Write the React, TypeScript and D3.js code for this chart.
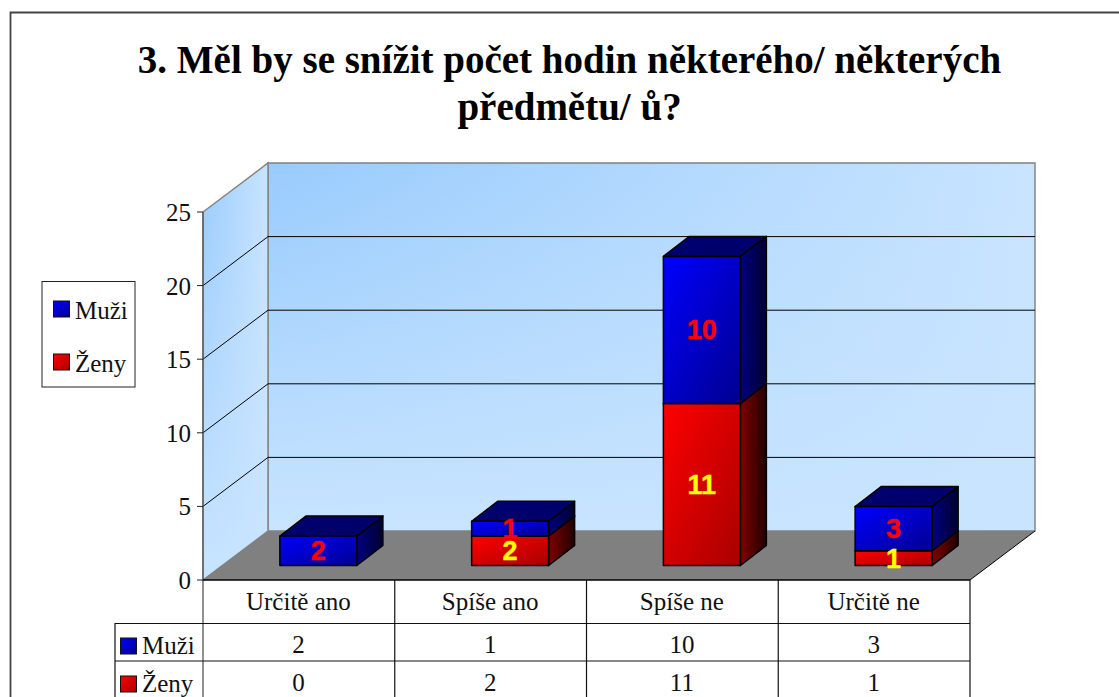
import React from "react";
import * as d3 from "d3";

const categories = ["Určitě ano", "Spíše ano", "Spíše ne", "Určitě ne"];
const muzi = [2, 1, 10, 3];
const zeny = [0, 2, 11, 1];
const yTicks = [0, 5, 10, 15, 20, 25];
const titleLines = ["3. Měl by se snížit počet hodin některého/ některých", "předmětu/ ů?"];

const SERIF = "'Liberation Serif', serif";
const SANS = "'Liberation Sans', sans-serif";

const x0 = 203, x1 = 970, yBase = 580, yTop = 212;
const DX = 65, DY = -49;
const barNearX = 19.5, barNearY = -14.5, barDX = 26, barDY = -20;
const barWidth = 77;

const y = d3.scaleLinear().domain([0, 25]).range([yBase, yTop]);
const band = d3.scaleBand<string>().domain(categories).range([x0, x1]);

const poly = (p: number[][]) => p.map((q) => q.join(",")).join(" ");

function Grad({ id, a, b, x2 = 1, y2 = 1 }: any) {
  return (
    <linearGradient id={id} x1="0" y1="0" x2={x2} y2={y2}>
      <stop offset="0" stopColor={a} />
      <stop offset="1" stopColor={b} />
    </linearGradient>
  );
}

function Box({ x, yb, yt, kind }: { x: number; yb: number; yt: number; kind: string }) {
  const r = x + barWidth;
  return (
    <g stroke="#000" strokeWidth={1.5} strokeLinejoin="round">
      <polygon points={poly([[x, yt], [x + barDX, yt + barDY], [r + barDX, yt + barDY], [r, yt]])} fill={`url(#${kind}Top)`} />
      <polygon points={poly([[r, yt], [r + barDX, yt + barDY], [r + barDX, yb + barDY], [r, yb]])} fill={`url(#${kind}Side)`} />
      <rect x={x} y={yt} width={barWidth} height={yb - yt} fill={`url(#${kind}Front)`} />
    </g>
  );
}

function Swatch({ x, yy, s, kind }: any) {
  return <rect x={x} y={yy} width={s} height={s} fill={`url(#${kind}Front)`} stroke="#111" strokeWidth={1} />;
}

export default function App() {
  const tableRows = [
    { name: "Muži", kind: "m", values: muzi, top: 623, bottom: 661 },
    { name: "Ženy", kind: "z", values: zeny, top: 661, bottom: 699 },
  ];
  const wallPts = poly([[x0 + DX, y(25) + DY], [x1 + DX, y(25) + DY], [x1 + DX, y(0) + DY], [x0 + DX, y(0) + DY]]);
  const sidePts = poly([[x0, y(25)], [x0 + DX, y(25) + DY], [x0 + DX, y(0) + DY], [x0, y(0)]]);
  return (
    <svg width={1119} height={697} style={{ position: "absolute", left: 0, top: 0, display: "block", background: "#fff" }}>
      <defs>
        <Grad id="wall" a="#98cbfd" b="#c8e4ff" x2={1} y2={0} />
        <Grad id="side" a="#98cbfd" b="#c8e4ff" x2={1} y2={0} />
        <linearGradient id="fade" x1="0" y1="0" x2="0" y2="1">
          <stop offset="0" stopColor="#c8e4ff" stopOpacity={0} />
          <stop offset="1" stopColor="#c8e4ff" stopOpacity={1} />
        </linearGradient>
        <Grad id="mFront" a="#0000ff" b="#000090" />
        <Grad id="mSide" a="#000080" b="#000030" x2={1} y2={0} />
        <Grad id="mTop" a="#000070" b="#00006a" />
        <Grad id="zFront" a="#ff0000" b="#a80000" />
        <Grad id="zSide" a="#800000" b="#200000" x2={1} y2={0} />
        <Grad id="zTop" a="#800000" b="#600000" />
      </defs>

      <path d="M10.5,697 V12.5 H1119" fill="none" stroke="#444" strokeWidth={1.8} />

      {titleLines.map((t, i) => (
        <text key={t} x={569.5} y={73 + i * 47} textAnchor="middle" fontFamily={SERIF} fontWeight="bold" fontSize={39} fill="#000">{t}</text>
      ))}

      {/* walls and floor */}
      <polygon points={wallPts} fill="url(#wall)" />
      <polygon points={wallPts} fill="url(#fade)" stroke="#808080" strokeWidth={1.4} />
      <polygon points={sidePts} fill="url(#side)" />
      <polygon points={sidePts} fill="url(#fade)" stroke="#808080" strokeWidth={1.4} />
      <polygon points={poly([[x0, y(0)], [x0 + DX, y(0) + DY], [x1 + DX, y(0) + DY], [x1, y(0)]])} fill="#808080" />

      {yTicks.filter((t) => t > 0 && t < 25).map((t) => (
        <polyline key={t} points={poly([[x0, y(t)], [x0 + DX, y(t) + DY], [x1 + DX, y(t) + DY]])} fill="none" stroke="#000" strokeWidth={1} />
      ))}
      <line x1={x1} y1={y(0)} x2={x1 + DX} y2={y(0) + DY} stroke="#000" strokeWidth={1} />

      {/* y axis */}
      <line x1={x0} y1={y(25)} x2={x0} y2={697} stroke="#555" strokeWidth={1.3} />
      {yTicks.map((t) => (
        <g key={t}>
          <line x1={x0 - 6} x2={x0} y1={y(t)} y2={y(t)} stroke="#222" strokeWidth={1} />
          <text x={x0 - 12} y={y(t) + 9} textAnchor="end" fontFamily={SERIF} fontSize={25} fill="#111">{t}</text>
        </g>
      ))}

      {/* bars */}
      {categories.map((c, i) => {
        const bx = (band(c) as number) + band.bandwidth() / 2 + barNearX - barWidth / 2;
        const base = y(0) + barNearY;
        const h = y(0) - y(1);
        const zTop = base - zeny[i] * h;
        const mTop = zTop - muzi[i] * h;
        const cx = bx + barWidth / 2;
        return (
          <g key={c}>
            {zeny[i] > 0 && <Box x={bx} yb={base} yt={zTop} kind="z" />}
            {muzi[i] > 0 && <Box x={bx} yb={zTop} yt={mTop} kind="m" />}
            {muzi[i] > 0 && (
              <text x={cx} y={(zTop + mTop) / 2 + 9.5} textAnchor="middle" fontFamily={SANS} fontWeight="bold" fontSize={27} fill="#ff0000" stroke="#ff0000" strokeWidth={0.4}>{muzi[i]}</text>
            )}
            {zeny[i] > 0 && (
              <text x={cx} y={(base + zTop) / 2 + 9.5} textAnchor="middle" fontFamily={SANS} fontWeight="bold" fontSize={27} fill="#ffff00" stroke="#ffff00" strokeWidth={0.4}>{zeny[i]}</text>
            )}
          </g>
        );
      })}

      {/* front line */}
      <line x1={x0} x2={x1} y1={y(0)} y2={y(0)} stroke="#000" strokeWidth={1.3} />

      {/* data table */}
      <g stroke="#111" strokeWidth={1.2}>
        <line x1={115} x2={x1} y1={623.5} y2={623.5} />
        <line x1={115} x2={x1} y1={661} y2={661} />
        <line x1={115} x2={115} y1={623} y2={697} />
        {categories.map((c) => (
          <line key={c} x1={(band(c) as number) + band.bandwidth()} x2={(band(c) as number) + band.bandwidth()} y1={y(0)} y2={697} />
        ))}
      </g>
      {categories.map((c) => (
        <text key={c} x={(band(c) as number) + band.bandwidth() / 2 - 0.5} y={610} textAnchor="middle" fontFamily={SERIF} fontSize={25} fill="#111">{c}</text>
      ))}
      {tableRows.map((r) => (
        <g key={r.name}>
          <Swatch x={120.5} yy={r.top + 15} s={16} kind={r.kind} />
          <text x={142} y={r.top + 30.5} fontFamily={SERIF} fontSize={25} fill="#111">{r.name}</text>
          {r.values.map((v, i) => (
            <text key={i} x={(band(categories[i]) as number) + band.bandwidth() / 2 - 0.5} y={r.top + 30} textAnchor="middle" fontFamily={SERIF} fontSize={25} fill="#111">{v}</text>
          ))}
        </g>
      ))}

      {/* legend */}
      <rect x={42} y={281.5} width={93} height={105.5} fill="#fff" stroke="#222" strokeWidth={1} />
      <Swatch x={53.5} yy={301} s={16} kind="m" />
      <Swatch x={53.5} yy={354} s={16} kind="z" />
      <text x={75} y={318.5} fontFamily={SERIF} fontSize={25} fill="#111">Muži</text>
      <text x={75} y={372} fontFamily={SERIF} fontSize={25} fill="#111">Ženy</text>
    </svg>
  );
}
